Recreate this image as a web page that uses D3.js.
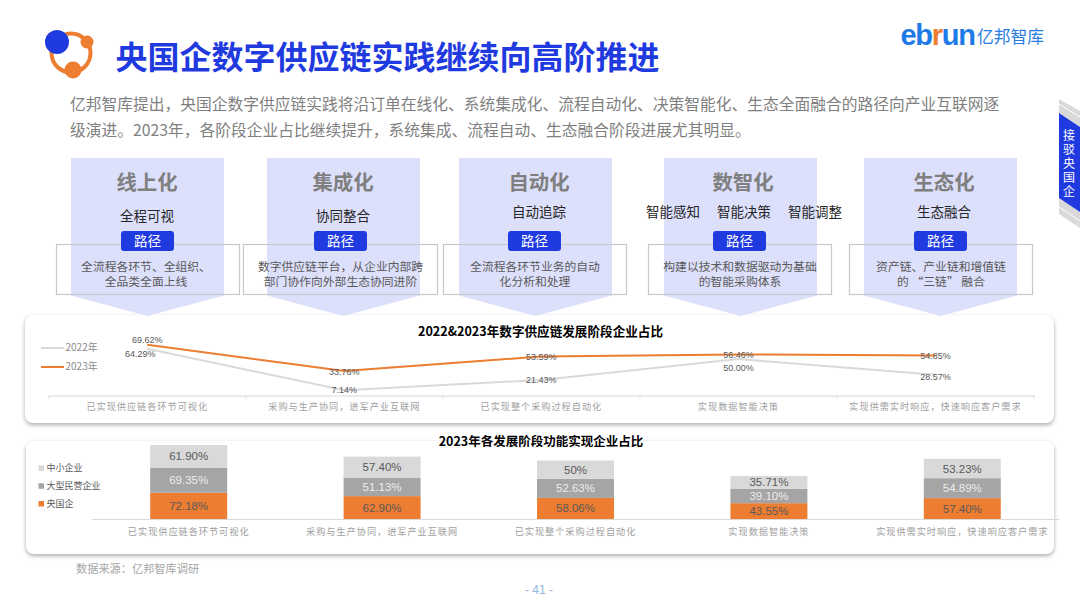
<!DOCTYPE html>
<html>
<head>
<meta charset="utf-8">
<script src="https://cdn.jsdelivr.net/npm/d3@7"></script>
<style>
  html, body { margin: 0; padding: 0; background: #fff; }
  svg { display: block; font-family: "Noto Sans CJK SC", sans-serif; }
</style>
</head>
<body>
<div id="chart"></div>
<script>
// Texts
const pageTitle = '央国企数字供应链实践继续向高阶推进'
const introLines = [
  '亿邦智库提出，央国企数字供应链实践将沿订单在线化、系统集成化、流程自动化、决策智能化、生态全面融合的路径向产业互联网逐',
  '级演进。2023年，各阶段企业占比继续提升，系统集成、流程自动、生态融合阶段进展尤其明显。'
]
const stageNames = ['线上化', '集成化', '自动化', '数智化', '生态化']
const stageGoals = [['全程可视'], ['协同整合'], ['自动追踪'], ['智能感知', '智能决策', '智能调整'], ['生态融合']]
const stageNotes = [
  ['全流程各环节、全组织、', '全品类全面上线'],
  ['数字供应链平台，从企业内部跨', '部门协作向外部生态协同进阶'],
  ['全流程各环节业务的自动', '化分析和处理'],
  ['构建以技术和数据驱动为基础', '的智能采购体系'],
  ['资产链、产业链和增值链', '的 “三链” 融合']
]
const tabLabel = '接驳央国企'

// Line chart data
const lineTitle = '2022&2023年数字供应链发展阶段企业占比'
const lineCategories = ['已实现供应链各环节可视化', '采购与生产协同，进军产业互联网', '已实现整个采购过程自动化', '实现数据智能决策', '实现供需实时响应，快速响应客户需求']
const years = ['2022年', '2023年']
const values2022 = [64.29, 7.14, 21.43, 50.00, 28.57]
const values2023 = [69.62, 33.76, 53.59, 56.46, 54.85]

// Stacked chart data
const stackTitle = '2023年各发展阶段功能实现企业占比'
const stackCategories = ['已实现供应链各环节可视化', '采购与生产协同，进军产业互联网', '已实现整个采购过程自动化', '实现数据智能决策', '实现供需实时响应，快速响应客户需求']
const stackSeries = ['央国企', '大型民营企业', '中小企业']
const centralSoe = [72.18, 62.90, 58.06, 43.55, 57.40]
const largePrivate = [69.35, 51.13, 52.63, 39.10, 54.89]
const smallMedium = [61.90, 57.40, 50, 35.71, 53.23]
const smallMediumLabels = ['61.90%', '57.40%', '50%', '35.71%', '53.23%']

const sourceNote = '数据来源：亿邦智库调研'
const pageNumber = '- 41 -'

// Colours
const blue = '#1f3be0'
const orange = '#ed7d31'
const lightGrey = '#d9d9d9'
const midGrey = '#a5a5a5'
const paleBlue = '#dde0fb'
const textGrey = '#7f7f7f'
const labelGrey = '#595959'
const axisText = '#a0a0a0'

const width = 1080
const height = 607

const svg = d3.select('#chart').append('svg')
  .attr('width', width)
  .attr('height', height)

drawHeader()
drawCard(25, 315, 1029, 108)
drawCard(26, 441, 1028, 113)
drawStages()
drawLineChart()
drawStackChart()
drawFooter()

function drawHeader() {
  // Logo mark
  svg.append('circle').attr('cx', 71).attr('cy', 53).attr('r', 19.5)
    .attr('fill', 'none').attr('stroke', orange).attr('stroke-width', 4)
  svg.append('circle').attr('cx', 87).attr('cy', 42).attr('r', 6.5).attr('fill', orange)
  svg.append('circle').attr('cx', 73).attr('cy', 70).attr('r', 8.5).attr('fill', orange)
  svg.append('circle').attr('cx', 57).attr('cy', 42).attr('r', 12).attr('fill', blue)

  svg.append('text')
    .attr('x', 115.5).attr('y', 69)
    .style('font-size', '32px').style('font-weight', 700)
    .attr('fill', blue)
    .text(pageTitle)

  // Brand
  const brand = svg.append('text')
    .attr('x', 900.5).attr('y', 44.5)
    .style('font-family', '"Liberation Sans", sans-serif')
    .style('font-size', '29px').style('font-weight', 700)
    .style('letter-spacing', '-1.3px')
    .attr('fill', '#1e7ae6')
  brand.append('tspan').text('eb')
  brand.append('tspan').attr('fill', orange).text('r')
  brand.append('tspan').text('un')
  svg.append('text')
    .attr('x', 977).attr('y', 43)
    .style('font-size', '16.8px')
    .attr('fill', '#2a7de1')
    .text('亿邦智库')

  svg.selectAll('.intro')
    .data(introLines)
    .join('text')
    .attr('class', 'intro')
    .attr('x', 70)
    .attr('y', (d, i) => 110 + i * 26)
    .style('font-size', '15.75px')
    .attr('fill', textGrey)
    .text(d => d)

  // Side tab
  const tab = svg.append('g')
  tab.append('path').attr('d', 'M1059,99L1080,111V127L1059,113Z').attr('fill', lightGrey)
  tab.append('path').attr('d', 'M1059,104L1080,117').attr('stroke', '#fff').attr('stroke-width', 1)
  tab.append('path').attr('d', 'M1059,198L1080,212V228L1059,214Z').attr('fill', lightGrey)
  tab.append('path').attr('d', 'M1059,207L1080,221').attr('stroke', '#fff').attr('stroke-width', 1)
  tab.append('path').attr('d', 'M1059,113L1080,127V212L1059,198Z').attr('fill', blue)
  tab.append('text')
    .attr('x', 1069)
    .attr('y', 129)
    .style('writing-mode', 'vertical-rl')
    .style('font-size', '12px')
    .style('letter-spacing', '2px')
    .attr('fill', '#fff')
    .text(tabLabel)
}

function drawCard(x, y, w, h) {
  svg.append('rect')
    .attr('x', x).attr('y', y).attr('width', w).attr('height', h)
    .attr('rx', 8)
    .attr('fill', '#fff')
    .style('filter', 'drop-shadow(0px 2px 2px rgba(0,0,0,0.32))')
}

function drawStages() {
  // Layout of the five columns (they are not evenly spaced in the slide)
  const chevronLeft = [71, 267, 459, 664, 864]
  const headCentre = [147, 343, 539, 743, 944]
  const goalY = [216, 216, 212, 212, 212]
  const goalCentres = [[147], [343], [539], [673, 744, 815], [944]]
  const boxLeft = [56, 243, 443, 648, 849]
  const boxWidth = [183, 194, 183, 183, 183]
  const pillCentre = [147.5, 340.5, 534.5, 739.5, 940.5]
  const noteCentre = [146, 340.5, 535, 740, 941]
  const cw = 153

  const g = svg.append('g')

  g.selectAll('.chevron')
    .data(stageNames)
    .join('path')
    .attr('class', 'chevron')
    .attr('d', (d, i) => {
      const l = chevronLeft[i]
      return `M${l},158H${l + cw}V295.5L${l + cw / 2},316L${l},295.5Z`
    })
    .attr('fill', paleBlue)

  g.selectAll('.box')
    .data(stageNames)
    .join('rect')
    .attr('class', 'box')
    .attr('x', (d, i) => boxLeft[i] + 0.5)
    .attr('y', 244.5)
    .attr('width', (d, i) => boxWidth[i])
    .attr('height', 50)
    .attr('fill', 'none')
    .attr('stroke', '#c8c8c8')
    .attr('stroke-width', 1.2)

  g.selectAll('.stage-name')
    .data(stageNames)
    .join('text')
    .attr('class', 'stage-name')
    .attr('x', (d, i) => headCentre[i])
    .attr('y', 190)
    .attr('text-anchor', 'middle')
    .style('font-size', '20.4px').style('font-weight', 700)
    .attr('fill', textGrey)
    .text(d => d)

  stageGoals.forEach((goals, i) => {
    g.selectAll(`.goal-${i}`)
      .data(goals)
      .join('text')
      .attr('class', `goal-${i}`)
      .attr('x', (d, j) => goalCentres[i][j])
      .attr('y', goalY[i] + 5)
      .attr('text-anchor', 'middle')
      .style('font-size', '13.5px')
      .attr('fill', '#262626')
      .text(d => d)
  })

  g.selectAll('.pill')
    .data(stageNames)
    .join('rect')
    .attr('class', 'pill')
    .attr('x', (d, i) => pillCentre[i] - 26.5)
    .attr('y', 231)
    .attr('width', 53)
    .attr('height', 20)
    .attr('rx', 3)
    .attr('fill', blue)

  g.selectAll('.pill-text')
    .data(stageNames)
    .join('text')
    .attr('class', 'pill-text')
    .attr('x', (d, i) => pillCentre[i])
    .attr('y', 246)
    .attr('text-anchor', 'middle')
    .style('font-size', '13.5px')
    .attr('fill', '#fff')
    .text('路径')

  stageNotes.forEach((lines, i) => {
    g.selectAll(`.note-${i}`)
      .data(lines)
      .join('text')
      .attr('class', `note-${i}`)
      .attr('x', noteCentre[i])
      .attr('y', (d, j) => 271 + j * 15)
      .attr('text-anchor', 'middle')
      .style('font-size', '11.8px')
      .attr('fill', labelGrey)
      .text(d => d)
  })
}

function drawLineChart() {
  const x = d3.scaleBand().domain(lineCategories).range([48.7, 1034])
  const y = d3.scaleLinear().domain([0, 100]).range([395.5, 322.7])
  const line = d3.line()
    .x((d, i) => x(lineCategories[i]) + x.bandwidth() / 2)
    .y(d => y(d))

  const g = svg.append('g')

  g.append('text')
    .attr('x', 540.5).attr('y', 335.5)
    .attr('text-anchor', 'middle')
    .style('font-size', '12.6px').style('font-weight', 700)
    .attr('fill', '#000')
    .text(lineTitle)

  // Axis, ticks sit on the category boundaries
  const axis = g.append('g')
    .attr('transform', `translate(0,${y(0)})`)
    .call(d3.axisBottom(x).tickSize(0).tickPadding(8))
  axis.select('.domain').attr('stroke', lightGrey)
  axis.selectAll('text')
    .style('font-family', '"Noto Sans CJK SC", sans-serif')
    .style('font-size', '9.2px')
    .style('letter-spacing', '0.95px')
    .attr('fill', axisText)
  axis.selectAll('.boundary')
    .data(d3.range(lineCategories.length + 1))
    .join('line')
    .attr('class', 'boundary')
    .attr('x1', d => 48.7 + d * x.step())
    .attr('x2', d => 48.7 + d * x.step())
    .attr('y2', 3)
    .attr('stroke', lightGrey)

  g.append('path').attr('d', line(values2022))
    .attr('fill', 'none').attr('stroke', lightGrey).attr('stroke-width', 2)
  g.append('path').attr('d', line(values2023))
    .attr('fill', 'none').attr('stroke', orange).attr('stroke-width', 2)

  // Label nudges as placed on the slide
  const dx2022 = [-7, 0, 0, 0, 0]
  const dy2022 = [5, 0, 0, 9, 2]
  const dx2023 = [0, 0, 0, 0, 0]
  const dy2023 = [-5, 1, 0, 0, 0]
  const labels = [
    { values: values2022, dx: dx2022, dy: dy2022 },
    { values: values2023, dx: dx2023, dy: dy2023 }
  ]
  labels.forEach(s => {
    g.append('g').selectAll('text')
      .data(s.values)
      .join('text')
      .attr('x', (d, i) => x(lineCategories[i]) + x.bandwidth() / 2 + s.dx[i])
      .attr('y', (d, i) => y(d) + s.dy[i])
      .attr('dy', '0.35em')
      .attr('text-anchor', 'middle')
      .style('font-family', '"Liberation Sans", sans-serif')
      .style('font-size', '9px')
      .attr('fill', labelGrey)
      .text(d => d.toFixed(2) + '%')
  })

  // Legend
  const legendY = d3.scalePoint().domain(years).range([348, 367])
  const legend = g.append('g').selectAll('g')
    .data(years)
    .join('g')
    .attr('transform', d => `translate(0,${legendY(d)})`)
  legend.append('line')
    .attr('x1', 41).attr('x2', 64)
    .attr('stroke', (d, i) => i === 0 ? lightGrey : orange)
    .attr('stroke-width', 2)
  legend.append('text')
    .attr('x', 65.5).attr('dy', '0.3em')
    .style('font-size', '10px')
    .attr('fill', '#8c8c8c')
    .text(d => d)
}

function drawStackChart() {
  const rows = stackCategories.map((c, i) => ({
    category: c,
    [stackSeries[0]]: centralSoe[i],
    [stackSeries[1]]: largePrivate[i],
    [stackSeries[2]]: smallMedium[i]
  }))
  const stacked = d3.stack().keys(stackSeries)(rows)

  const x = d3.scaleBand().domain(stackCategories).range([92, 1059])
    .paddingInner(0.602).paddingOuter(0.301)
  const y = d3.scaleLinear().domain([0, 220]).range([519, 439])
  const fills = d3.scaleOrdinal().domain(stackSeries).range([orange, midGrey, lightGrey])
  const labelFills = d3.scaleOrdinal().domain(stackSeries).range([labelGrey, '#ececec', labelGrey])

  const g = svg.append('g')

  g.append('text')
    .attr('x', 541).attr('y', 445.5)
    .attr('text-anchor', 'middle')
    .style('font-size', '12.5px').style('font-weight', 700)
    .attr('fill', '#000')
    .text(stackTitle)

  const layers = g.append('g').selectAll('g')
    .data(stacked)
    .join('g')

  layers.selectAll('rect')
    .data(d => d)
    .join('rect')
    .attr('x', d => x(d.data.category))
    .attr('y', d => y(d[1]))
    .attr('width', x.bandwidth())
    .attr('height', d => y(d[0]) - y(d[1]))
    .attr('fill', function() { return fills(d3.select(this.parentNode).datum().key) })

  layers.selectAll('text')
    .data(d => d.map((p, i) => ({ p, i, key: d.key })))
    .join('text')
    .attr('x', d => x(d.p.data.category) + x.bandwidth() / 2)
    .attr('y', d => y((d.p[0] + d.p[1]) / 2))
    .attr('dy', '0.35em')
    .attr('text-anchor', 'middle')
    .style('font-family', '"Liberation Sans", sans-serif')
    .style('font-size', '11.5px')
    .attr('fill', d => labelFills(d.key))
    .text(d => {
      if (d.key === stackSeries[2]) return smallMediumLabels[d.i]
      return d.key === stackSeries[0] ? centralSoe[d.i].toFixed(2) + '%' : largePrivate[d.i].toFixed(2) + '%'
    })

  const axis = g.append('g')
    .attr('transform', `translate(0,${y(0)})`)
    .call(d3.axisBottom(x).tickSize(0).tickPadding(9))
  axis.select('.domain').attr('stroke', lightGrey).attr('stroke-width', 1.2)
  axis.selectAll('text')
    .style('font-family', '"Noto Sans CJK SC", sans-serif')
    .style('font-size', '9.2px')
    .style('letter-spacing', '0.95px')
    .attr('fill', axisText)

  // Legend, top to bottom is the reverse of the stack order
  const legendY = d3.scalePoint().domain(stackSeries.slice().reverse()).range([468, 503.5])
  const legend = g.append('g').selectAll('g')
    .data(stackSeries)
    .join('g')
    .attr('transform', d => `translate(0,${legendY(d)})`)
  legend.append('rect')
    .attr('x', 38.5).attr('y', -2.5)
    .attr('width', 5.5).attr('height', 5.5)
    .attr('fill', d => fills(d))
  legend.append('text')
    .attr('x', 46.5).attr('dy', '0.35em')
    .style('font-size', '9px')
    .attr('fill', labelGrey)
    .text(d => d)
}

function drawFooter() {
  svg.append('text')
    .attr('x', 76).attr('y', 573)
    .style('font-size', '11.2px')
    .attr('fill', '#a6a6a6')
    .text(sourceNote)
  svg.append('text')
    .attr('x', 539).attr('y', 594)
    .attr('text-anchor', 'middle')
    .style('font-family', '"Liberation Sans", sans-serif')
    .style('font-size', '12px')
    .attr('fill', '#8fb4de')
    .text(pageNumber)
}
</script>
</body>
</html>
